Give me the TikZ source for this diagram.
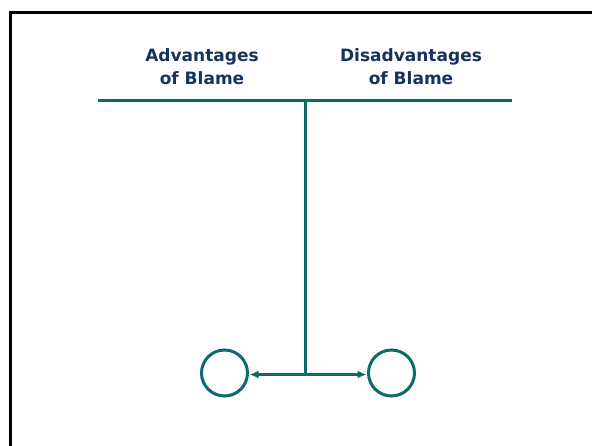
\documentclass[tikz,border=0pt]{standalone}
\usepackage{fontspec}
\setmainfont{DejaVu Sans}
\usetikzlibrary{arrows.meta}
\definecolor{teal1}{RGB}{14,106,104}
\definecolor{navy1}{RGB}{22,50,94}
\tikzset{
  heading/.style={font=\bfseries\fontsize{17}{23}\selectfont, text=navy1, align=center, anchor=base, inner sep=0pt},
  tline/.style={draw=teal1, line width=3pt},
  ring/.style={circle, draw=teal1, line width=3pt, minimum size=46pt, inner sep=0pt},
  arr/.style={tline, -{Latex[length=9pt,width=8pt]}, shorten >=0.5pt}
}
\begin{document}
\begin{tikzpicture}[x=1pt,y=-1pt]
\useasboundingbox (0,0) rectangle (592,446);
\draw[line width=3pt, black] (10.5,450) -- (10.5,12.5) -- (600,12.5);
\node[heading] (adv) at (202,85) {Advantages\\of Blame};
\node[heading] (dis) at (411,85) {Disadvantages\\of Blame};
\coordinate (hl) at (98,100.5);
\coordinate (hr) at (512,100.5);
\coordinate (top) at (305,100.5);
\coordinate (bot) at (305,374.5);
\draw[tline] (hl) -- (hr);
\draw[tline] (top) -- (bot);
\node[ring] (c1) at (224.5,373) {};
\node[ring] (c2) at (391.5,373) {};
\draw[arr] (bot) -- (c1.east |- bot);
\draw[arr] (bot) -- (c2.west |- bot);
\end{tikzpicture}
\end{document}
